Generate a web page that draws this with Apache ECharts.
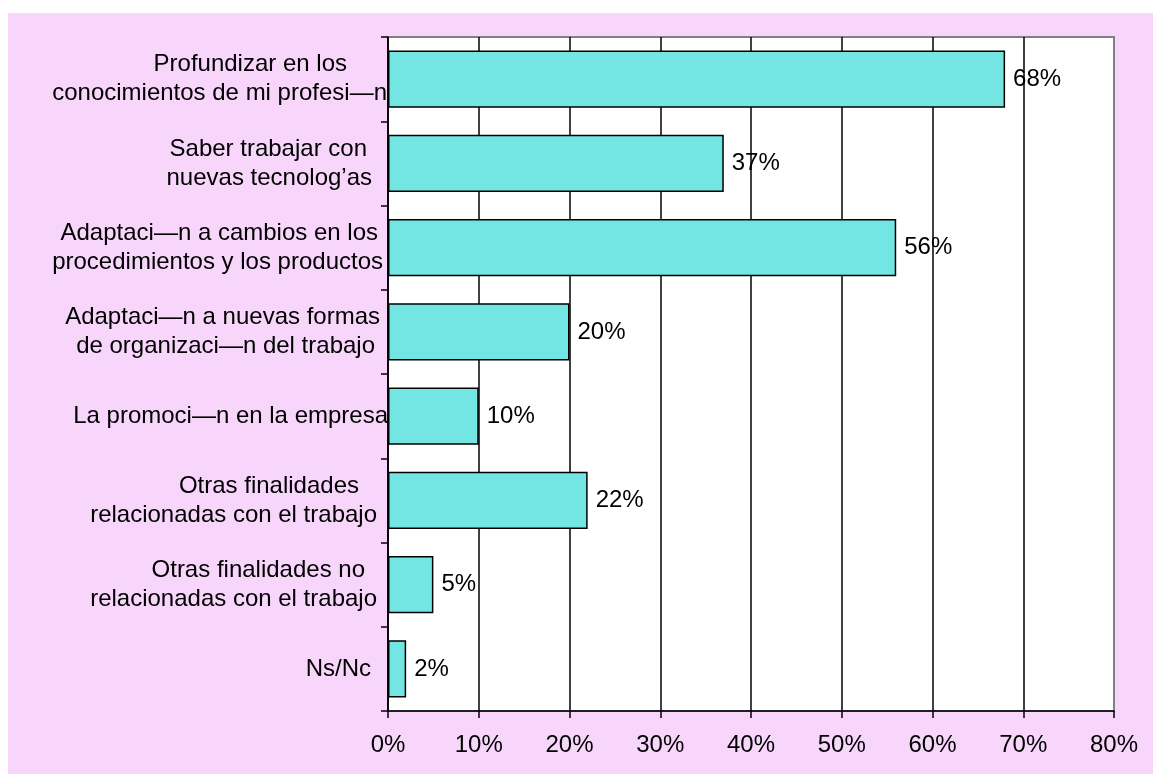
<!DOCTYPE html>
<html>
<head>
<meta charset="utf-8">
<script src="https://cdn.jsdelivr.net/npm/echarts@6/dist/echarts.min.js"></script>
<style>
  html, body { margin: 0; padding: 0; background: #ffffff; }
  #chart { position: absolute; left: 8px; top: 13px; width: 1145px; height: 761px; }
</style>
</head>
<body>
<div id="chart"></div>
<script>
// Categories (top to bottom), with line breaks as they are shown
const categories = [
  "Profundizar en los\nconocimientos de mi profesi—n",
  "Saber trabajar con\nnuevas tecnolog’as",
  "Adaptaci—n a cambios en los\nprocedimientos y los productos",
  "Adaptaci—n a nuevas formas\nde organizaci—n del trabajo",
  "La promoci—n en la empresa",
  "Otras finalidades\nrelacionadas con el trabajo",
  "Otras finalidades no\nrelacionadas con el trabajo",
  "Ns/Nc"
];

// Share of respondents, percent
const values = [68, 37, 56, 20, 10, 22, 5, 2];

// Value axis ticks
const axisMin = 0;
const axisMax = 80;
const axisStep = 10;

// Right inset (px) of each label line, per category
const lineInsets = [
  [41, 1],
  [21, 16],
  [10, 5],
  [8, 13],
  [0],
  [29, 11],
  [23, 11],
  [17]
];

const FONT = '"Liberation Sans", Arial, Helvetica, sans-serif';
const FS = 24;

// Build one rich style per inset so each wrapped line can sit where it should
const rich = {};
lineInsets.forEach(function (arr, i) {
  arr.forEach(function (p, j) {
    rich['l' + i + '_' + j] = {
      fontFamily: FONT, fontSize: FS, color: '#000', lineHeight: 29,
      padding: [0, p, 0, 0]
    };
  });
});

const chart = echarts.init(document.getElementById('chart'));
chart.setOption({
  backgroundColor: '#f8d6fb',
  animation: false,
  grid: {
    left: 380, right: 39, top: 24, bottom: 63,
    show: true, backgroundColor: '#ffffff',
    borderColor: '#808080', borderWidth: 2
  },
  xAxis: {
    type: 'value',
    min: axisMin, max: axisMax, interval: axisStep,
    axisLine: { show: true, lineStyle: { color: '#000', width: 1.5 } },
    axisTick: { show: true, length: 7, lineStyle: { color: '#000', width: 1.5 } },
    axisLabel: {
      formatter: '{value}%', margin: 22,
      fontFamily: FONT, fontSize: FS, color: '#000'
    },
    splitLine: {
      show: true, showMaxLine: false,
      lineStyle: { color: '#000', width: 1.5 }
    }
  },
  yAxis: {
    type: 'category',
    inverse: true,
    data: categories,
    axisLine: { show: true, lineStyle: { color: '#000', width: 1.5 } },
    axisTick: { show: true, length: 7, lineStyle: { color: '#000', width: 1.5 } },
    axisLabel: {
      margin: 0,
      align: 'right',
      interval: 0,
      fontFamily: FONT, fontSize: FS, color: '#000', lineHeight: 29,
      formatter: function (val, idx) {
        return val.split('\n').map(function (line, j) {
          return '{l' + idx + '_' + j + '|' + line + '}';
        }).join('\n');
      },
      rich: rich
    },
    splitLine: { show: false }
  },
  series: [{
    type: 'bar',
    data: values,
    barWidth: '68%',
    itemStyle: { color: '#73e6e4', borderColor: '#000', borderWidth: 1.5 },
    label: {
      show: true, position: 'right', distance: 8,
      formatter: '{c}%',
      fontFamily: FONT, fontSize: FS, color: '#000'
    }
  }]
});
</script>
</body>
</html>
